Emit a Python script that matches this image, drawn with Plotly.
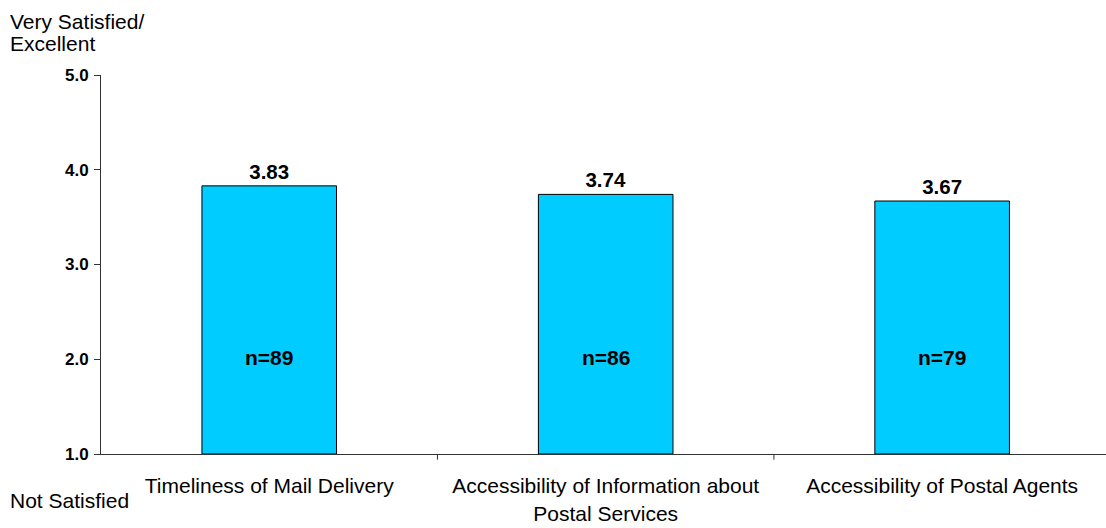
import plotly.graph_objects as go

categories = ["Timeliness of Mail Delivery",
              "Accessibility of Information about<br>Postal Services",
              "Accessibility of Postal Agents"]
scores = [3.83, 3.74, 3.67]
score_labels = ["3.83", "3.74", "3.67"]
n_labels = ["n=89", "n=86", "n=79"]
n_label_y = [2.0, 2.0, 2.0]
y_ticks = [1.0, 2.0, 3.0, 4.0, 5.0]

FONT = "Liberation Sans, Arial, sans-serif"
AX = "#333333"

fig = go.Figure()
fig.add_trace(go.Bar(
    x=[0, 1, 2], y=[s - 1 for s in scores], base=1,
    width=0.4,
    marker=dict(color="#00CCFF", line=dict(color="black", width=1)),
    text=score_labels, textposition="outside", cliponaxis=False,
    textfont=dict(family=FONT, size=20.5, color="black", weight="bold"),
    hoverinfo="skip",
))

annotations = [
    dict(text=t, x=i, y=yv, xref="x", yref="y", showarrow=False,
         xanchor="center", yanchor="middle", yshift=2,
         font=dict(family=FONT, size=21, color="black", weight="bold"))
    for i, (t, yv) in enumerate(zip(n_labels, n_label_y))
]
annotations += [
    dict(text="Very Satisfied/", xref="paper", yref="paper",
         x=-93/1005, y=1 + 67/379, xanchor="left", yanchor="top", align="left",
         showarrow=False, font=dict(family=FONT, size=21, color="black")),
    dict(text="Excellent", xref="paper", yref="paper",
         x=-93/1005, y=1 + 45/379, xanchor="left", yanchor="top", align="left",
         showarrow=False, font=dict(family=FONT, size=21, color="black")),
    dict(text="Not Satisfied", xref="paper", yref="paper",
         x=-93/1005, y=-33/379, xanchor="left", yanchor="top", align="left",
         showarrow=False, font=dict(family=FONT, size=21, color="black")),
]

fig.update_layout(
    width=1106, height=528,
    margin=dict(l=101, r=0, t=75, b=74),
    paper_bgcolor="white", plot_bgcolor="white",
    showlegend=False,
    font=dict(family=FONT, color="black"),
    xaxis=dict(
        range=[-0.5, 2.487],
        tickmode="array", tickvals=[0, 1, 2], ticktext=categories,
        showgrid=False, zeroline=False,
        showline=True, linecolor=AX, linewidth=1,
        ticks="", tickfont=dict(family=FONT, size=21, color="black"),
        ticklabelstandoff=13,
    ),
    yaxis=dict(
        range=[1, 5], tickvals=y_ticks, tickformat=".1f",
        showgrid=False, zeroline=False,
        showline=True, linecolor=AX, linewidth=1,
        ticks="outside", ticklen=6, tickcolor=AX,
        tickfont=dict(family=FONT, size=17, color="black", weight="bold"),
        ticklabelstandoff=2,
    ),
    shapes=[dict(type="line", xref="x", yref="paper", x0=v, x1=v, y0=0, y1=-0.015,
                 line=dict(color=AX, width=1)) for v in [0.5, 1.5]],
    annotations=annotations,
)

fig.write_html("out.html", config={"displayModeBar": False},
               post_script="document.body.style.margin='0';")
